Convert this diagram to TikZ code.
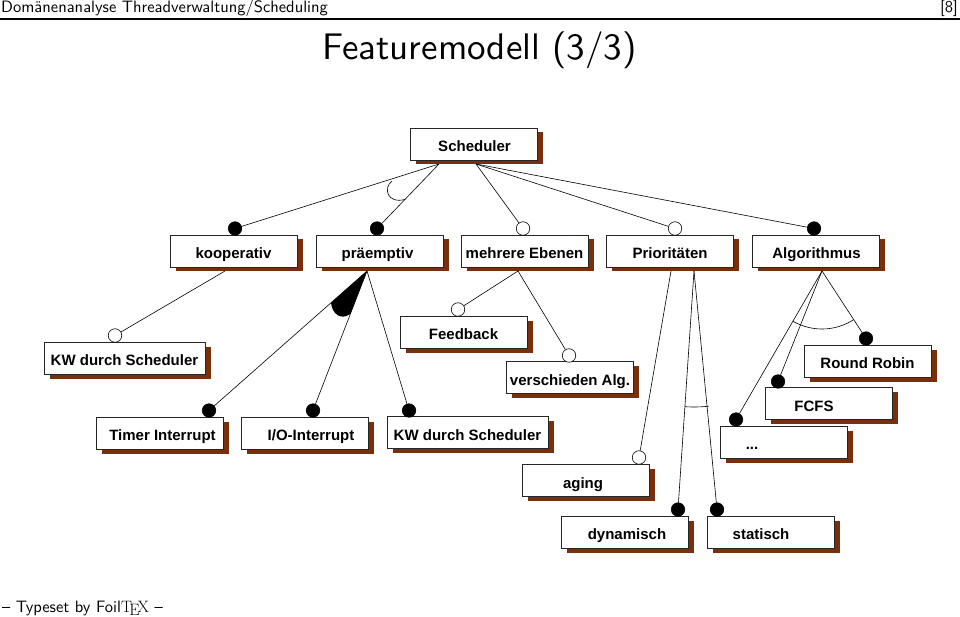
\documentclass[tikz,border=0pt]{standalone}
\usepackage{fontspec}
\newfontfamily\boxfont{Liberation Sans}
\newfontfamily\lmsansten{lmsans10-regular.otf}[Ligatures=TeX]
\usetikzlibrary{shadows,calc}
\definecolor{shadowbrown}{RGB}{120,48,12}
\newcommand{\offtext}[2]{\makebox[0pt][c]{\hspace*{#1pt}#2}}
\tikzset{
  fbox/.style={draw=black!85, line width=0.6pt, fill=white, rectangle,
    minimum width=127pt, minimum height=32pt, inner sep=0pt,
    text height=15pt, text depth=0pt,
    font=\boxfont\bfseries\fontsize{15}{18}\selectfont,
    general shadow={fill=shadowbrown, shadow xshift=5.5pt, shadow yshift=-4.5pt}},
  widebox/.style={minimum width=161pt},
  mand/.style={circle, fill=black, draw=black, line width=0.6pt, inner sep=0pt, minimum size=13.5pt},
  opt/.style={circle, fill=white, draw=black, line width=0.6pt, inner sep=0pt, minimum size=13.5pt},
  conn/.style={draw=black, line width=0.6pt},
  hdrfont/.style={font=\lmsansten\fontsize{16.5}{19}\selectfont, inner sep=0pt},
}
\begin{document}
\begin{tikzpicture}[x=1pt,y=-1pt]
\useasboundingbox (0,0) rectangle (960,617);

% header, title, footer
\node[hdrfont, anchor=base west] (hdr) at (1,13) {Domänenanalyse Threadverwaltung/Scheduling};
\node[hdrfont, anchor=base east] (pg) at (958,13) {[8]};
\coordinate (rl) at (0,19.5);
\coordinate (rr) at (960,19.5);
\draw[line width=2pt] (rl) -- (rr);
\node[anchor=base, inner sep=0pt, font=\lmsansten\fontsize{37}{42}\selectfont] (title) at (479.5,60) {Featuremodell (3/3)};
\node[hdrfont, anchor=base west] (foot) at (2,612) {-- Typeset by Foil{\rmfamily\TeX} --};

% boxes
\node[fbox] (sched) at (473.5,144) {\offtext{2}{Scheduler}};
\node[fbox] (koop) at (233.5,251) {kooperativ};
\node[fbox] (praem) at (379.5,251) {\offtext{-4}{präemptiv}};
\node[fbox] (mehr) at (524.5,251) {mehrere Ebenen};
\node[fbox] (prio) at (670,251) {Prioritäten};
\node[fbox] (algo) at (815.5,251) {\offtext{2}{Algorithmus}};
\node[fbox, widebox] (kwl) at (124.5,358) {KW durch Scheduler};
\node[fbox] (timer) at (159.5,433) {\offtext{6}{Timer Interrupt}};
\node[fbox] (io) at (305,433) {\offtext{12}{I/O-Interrupt}};
\node[fbox, widebox] (kwr) at (467.5,432.5) {KW durch Scheduler};
\node[fbox] (feed) at (463.5,332) {Feedback};
\node[fbox] (versch) at (570,377.5) {verschieden Alg.};
\node[fbox] (aging) at (586,480.5) {\offtext{-6}{aging}};
\node[fbox] (dyn) at (624.5,532) {\offtext{5}{dynamisch}};
\node[fbox] (stat) at (770.5,532) {\offtext{-19}{statisch}};
\node[fbox] (rrobin) at (867.5,361) {Round Robin};
\node[fbox] (fcfs) at (828.5,403.5) {\offtext{-29}{FCFS}};
\node[fbox] (etc) at (783.5,442) {\offtext{-63}{...}};

% origins of connectors
\coordinate (oSa) at (439,164);
\coordinate (oSb) at (476,164);
\coordinate (oK) at (225,271);
\coordinate (oP) at (367,271);
\coordinate (oM) at (518,271);
\coordinate (oPa) at (671,271);
\coordinate (oPb) at (694,271);
\coordinate (oA) at (822,271);

% feature dots
\node[mand] (dkoop) at (235,228.5) {};
\node[mand] (dpraem) at (377,228.5) {};
\node[opt]  (dmehr) at (523,228.5) {};
\node[opt]  (dprio) at (675,228.5) {};
\node[mand] (dalgo) at (814,228.5) {};
\node[opt]  (dkwl) at (115,335.5) {};
\node[mand] (dtimer) at (209,410.5) {};
\node[mand] (dio) at (313,410.5) {};
\node[mand] (dkwr) at (409,410.5) {};
\node[opt]  (dfeed) at (458,309.5) {};
\node[opt]  (dversch) at (569,355.5) {};
\node[opt]  (daging) at (639,457.5) {};
\node[mand] (ddyn) at (678,509.5) {};
\node[mand] (dstat) at (717,509.5) {};
\node[mand] (drr) at (866,338.5) {};
\node[mand] (dfcfs) at (778,381.5) {};
\node[mand] (detc) at (736,419.5) {};

% connectors
\draw[conn] (oSa) -- (dkoop);
\draw[conn] (oSa) -- (dpraem);
\draw[conn] (oSb) -- (dmehr);
\draw[conn] (oSb) -- (dprio);
\draw[conn] (oSb) -- (dalgo);
\draw[conn] (oK) -- (dkwl);
\draw[conn] (oP) -- (dtimer);
\draw[conn] (oP) -- (dio);
\draw[conn] (oP) -- (dkwr);
\draw[conn] (oM) -- (dfeed);
\draw[conn] (oM) -- (dversch);
\draw[conn] (oPa) -- (daging);
\draw[conn] (oPb) -- (ddyn);
\draw[conn] (oPb) -- (dstat);
\draw[conn] (oA) -- (detc);
\draw[conn] (oA) -- (dfcfs);
\draw[conn] (oA) -- (drr);

% group markers
\draw[conn] (392,181) .. controls (383,188) and (387,204) .. (405,199.5);
\fill[black] (oP) -- (331,302.7) .. controls (332,313) and (340,321) .. (350.3,314) -- cycle;
\draw[conn] plot[domain=83.8:93.8, samples=20, smooth] ({694+136*cos(\x)},{271+136*sin(\x)});
\draw[conn] plot[domain=56.9:120.1, samples=30, smooth] ({822+58*cos(\x)},{271+58*sin(\x)});
\end{tikzpicture}
\end{document}
